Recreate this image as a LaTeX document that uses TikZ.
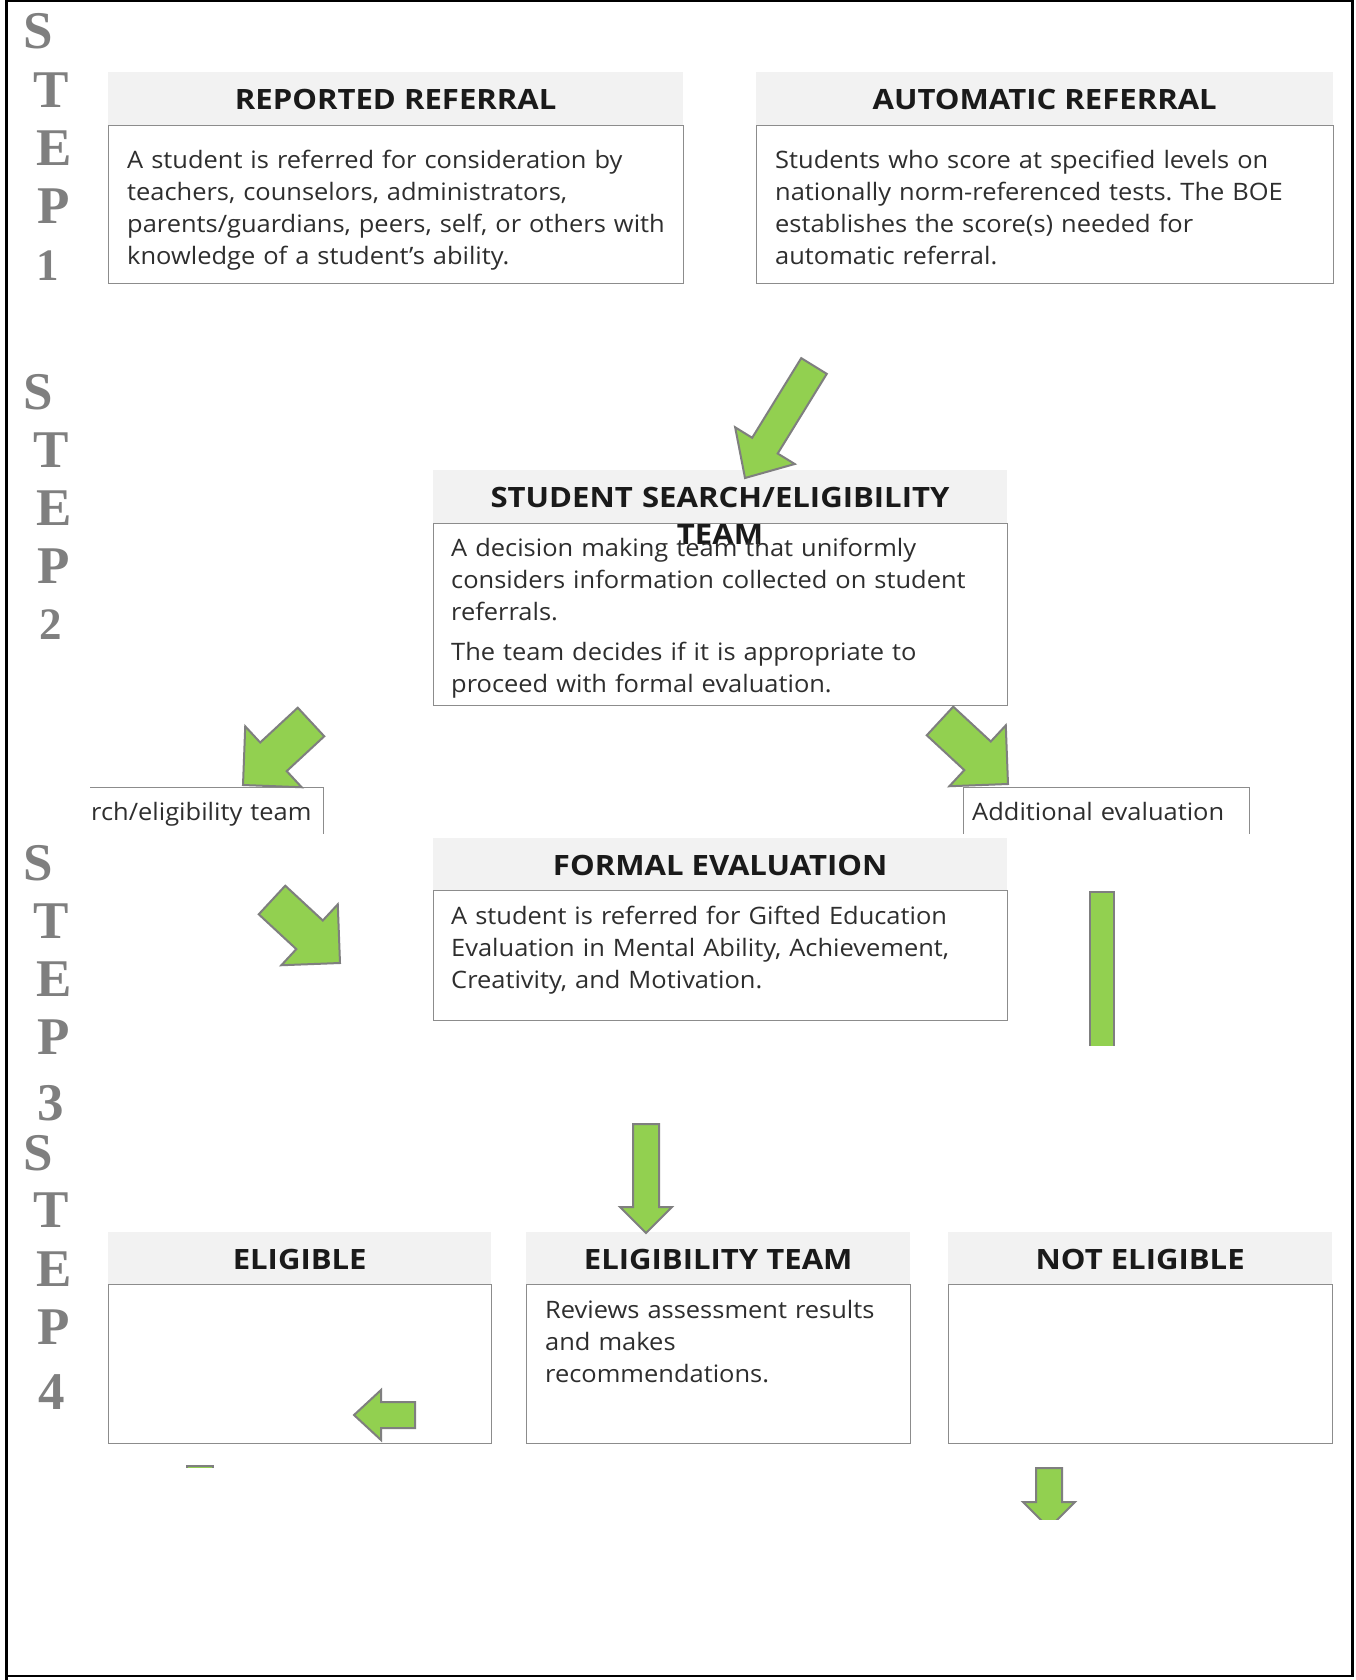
\documentclass[tikz,border=0pt]{standalone}
\usepackage{fontspec}
\usetikzlibrary{calc}
\newfontfamily\bodyfont[FakeStretch=1.06]{Open Sans}
\newfontfamily\headfont[FakeStretch=1.11]{Open Sans}
\newfontfamily\stepfont{Liberation Serif}
\definecolor{hdrfill}{HTML}{F2F2F2}
\definecolor{boxline}{HTML}{8C8C8C}
\definecolor{arrowgreen}{HTML}{92D050}
\definecolor{arrowline}{HTML}{7F7F7F}
\definecolor{steptext}{HTML}{7F7F7F}
\definecolor{bodytext}{HTML}{2E2E2E}
\definecolor{hdrtext}{HTML}{1A1A1A}

% block arrow: tail, tip, shaft half width, head half width, head length
\newcommand\greenarrow[5]{%
  \coordinate (#2-base) at ($(#2)!#5!(#1)$);
  \draw[garrow] ($(#1)!#3!90:(#2)$) -- ($(#2-base)!#3!90:(#2)$)
    -- ($(#2-base)!#4!90:(#2)$) -- (#2) -- ($(#2-base)!#4!-90:(#2)$)
    -- ($(#2-base)!#3!-90:(#2)$) -- ($(#1)!#3!-90:(#2)$) -- cycle;}

\begin{document}
\frenchspacing
\begin{tikzpicture}[x=1pt,y=-1pt,
  band/.style={fill=hdrfill, draw=none, inner sep=0pt, anchor=north west,
    text height=22pt, text depth=0pt, text=hdrtext,
    font={\headfont\bfseries\fontsize{28}{37}\selectfont}},
  hdrtxt/.style={inner sep=0pt, text=hdrtext,
    font={\headfont\bfseries\fontsize{28}{37}\selectfont}},
  body/.style={draw=boxline, line width=1.4pt, fill=white, inner sep=0pt,
    anchor=north west},
  txt/.style={inner sep=0pt, anchor=base west, align=left, text width=#1,
    text=bodytext, font={\bodyfont\fontsize{24}{32}\selectfont}},
  steplet/.style={inner sep=0pt, text=steptext,
    font={\stepfont\bfseries\fontsize{53}{53}\selectfont}},
  stepnum/.style={steplet, font={\stepfont\bfseries\fontsize{45}{45}\selectfont}},
  garrow/.style={fill=arrowgreen, draw=arrowline, line width=2pt, line join=miter}]

\useasboundingbox (0,0) rectangle (1355,1680);
\fill[white] (0,0) rectangle (1355,1680);

% page frame
\draw[line width=2.4pt] (7,1.3) rectangle (1352.5,1676);
\draw[line width=3.4pt] (6.5,0) -- (6.5,1680);

% step labels
\foreach \n/\l/\x/\y in {aS/S/38.5/31, aT/T/51/90, aE/E/54/148, aP/P/53.5/206,
    bS/S/38.5/392, bT/T/51/450, bE/E/54/508, bP/P/53.5/566,
    cS/S/38.5/863, cT/T/51/921, cE/E/54/979, cP/P/53.5/1037,
    dS/S/38.5/1153, dT/T/51/1210, dE/E/54/1269, dP/P/53.5/1327}
  \node[steplet] (step\n) at (\x,\y) {\l};
\node[stepnum] (stepa1) at (48,266) {1};
\node[stepnum] (stepb2) at (51,625) {2};
\node[steplet] (stepc3) at (51,1103) {3};
\node[steplet] (stepd4) at (52,1392) {4};

% step 1 boxes
\node[band, minimum width=575pt, minimum height=53pt] (rrH) at (108,72) {REPORTED REFERRAL};
\node[body, minimum width=575pt, minimum height=158pt] (rrB) at (108,125) {};
\node[band, minimum width=577pt, minimum height=53pt] (arH) at (756,72) {AUTOMATIC REFERRAL};
\node[body, minimum width=577pt, minimum height=158pt] (arB) at (756,125) {};

% step 2 box
\node[band, minimum width=574pt, minimum height=53pt] (ssH) at (433,470) {};
\node[body, minimum width=574pt, minimum height=182pt] (ssB) at (433,523) {};

% partly hidden boxes
\begin{scope}
  \clip (90,770) rectangle (345,833);
  \node[body, minimum width=300pt, minimum height=100pt] (nrB) at (23,787) {};
\end{scope}
\begin{scope}
  \clip (955,770) rectangle (1265,833);
  \node[body, minimum width=286pt, minimum height=100pt] (aeB) at (963,787) {};
\end{scope}

% step 3 box
\node[band, minimum width=574pt, minimum height=52pt] (feH) at (433,838) {FORMAL EVALUATION};
\node[body, minimum width=574pt, minimum height=130pt] (feB) at (433,890) {};

% step 4 boxes
\node[band, minimum width=383pt, minimum height=52pt] (elH) at (108,1232) {ELIGIBLE};
\node[body, minimum width=383pt, minimum height=159pt] (elB) at (108,1284) {};
\node[band, minimum width=384pt, minimum height=52pt] (etH) at (526,1232) {ELIGIBILITY TEAM};
\node[body, minimum width=384pt, minimum height=159pt] (etB) at (526,1284) {};
\node[band, minimum width=384pt, minimum height=52pt] (neH) at (948,1232) {NOT ELIGIBLE};
\node[body, minimum width=384pt, minimum height=159pt] (neB) at (948,1284) {};

% texts
\node[txt=545pt] (rrT) at (127,168.5) {A student is referred for consideration by\\
  teachers, counselors, administrators,\\
  parents/guardians, peers, self, or others with\\
  knowledge of a student’s ability.};
\node[txt=545pt] (arT) at (775,168.5) {Students who score at specified levels on\\
  nationally norm-referenced tests. The BOE\\
  establishes the score(s) needed for\\
  automatic referral.};
\node[hdrtxt, text width=580pt, align=center, anchor=base] (ssHT) at (720,507)
  {STUDENT SEARCH/ELIGIBILITY\\TEAM};
\node[txt=545pt] (ssT) at (451,556) {A decision making team that uniformly\\
  considers information collected on student\\
  referrals.\\[8pt]
  The team decides if it is appropriate to\\
  proceed with formal evaluation.};
\node[txt=240pt] (nrT) at (91,820) {rch/eligibility team};
\node[txt=280pt] (aeT) at (972,820) {Additional evaluation};
\node[txt=545pt] (feT) at (451,924) {A student is referred for Gifted Education\\
  Evaluation in Mental Ability, Achievement,\\
  Creativity, and Motivation.};
\node[txt=360pt] (etT) at (545,1318) {Reviews assessment results\\
  and makes\\
  recommendations.};

% green arrows
\coordinate (a1tail) at (814,366);  \coordinate (a1tip) at (745,478);
\greenarrow{a1tail}{a1tip}{15pt}{35pt}{38pt}
\coordinate (a2tail) at (311,722);  \coordinate (a2tip) at (243,785);
\greenarrow{a2tail}{a2tip}{19.5pt}{41.5pt}{41.5pt}
\coordinate (a3tail) at (940,721);  \coordinate (a3tip) at (1008,784);
\greenarrow{a3tail}{a3tip}{19.5pt}{41.5pt}{41.5pt}
\coordinate (a4tail) at (272,900);  \coordinate (a4tip) at (340,963);
\greenarrow{a4tail}{a4tip}{19.5pt}{41.5pt}{41.5pt}
\coordinate (a6tail) at (646,1124); \coordinate (a6tip) at (646,1233);
\greenarrow{a6tail}{a6tip}{13pt}{26pt}{26pt}
\coordinate (a8tail) at (415,1415); \coordinate (a8tip) at (354,1415);
\greenarrow{a8tail}{a8tip}{13pt}{25pt}{27pt}
\begin{scope}
  \clip (1000,1455) rectangle (1100,1519);
  \coordinate (a7tail) at (1049,1468); \coordinate (a7tip) at (1049,1528);
  \greenarrow{a7tail}{a7tip}{13pt}{26pt}{26pt}
\end{scope}
\begin{scope}
  \clip (1080,885) rectangle (1125,1045);
  \coordinate (a5top) at (1090,892); \coordinate (a5bot) at (1114,1070);
  \draw[garrow] (a5top) rectangle (a5bot);
\end{scope}
\begin{scope}
  \clip (180,1460) rectangle (220,1467.8);
  \coordinate (a9top) at (187,1466); \coordinate (a9bot) at (213,1500);
  \draw[garrow] (a9top) rectangle (a9bot);
\end{scope}

\end{tikzpicture}
\end{document}
